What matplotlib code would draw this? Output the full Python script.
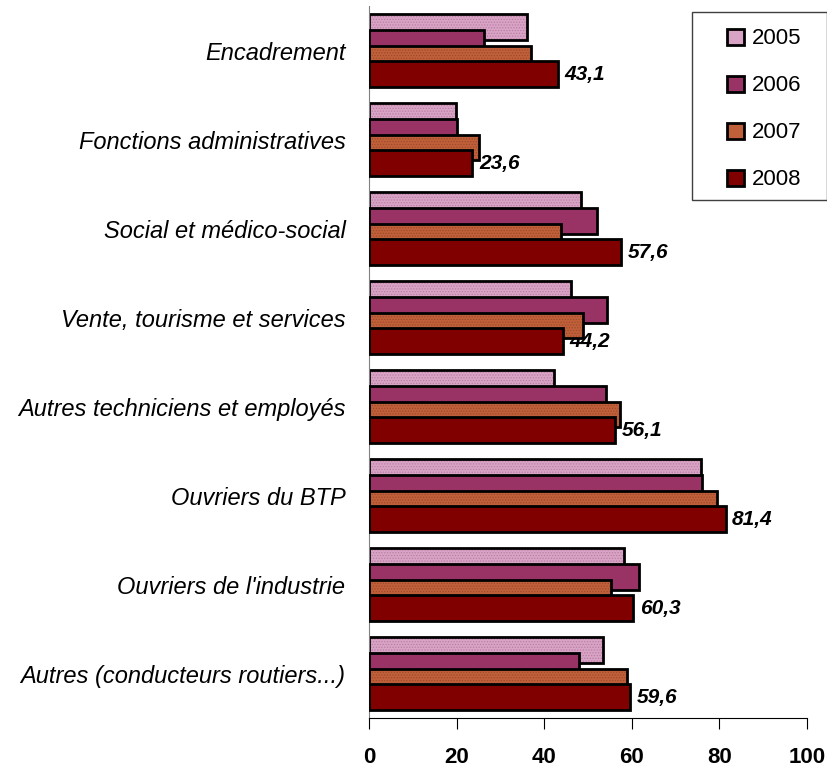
import matplotlib
matplotlib.use("Agg")
import matplotlib.pyplot as plt
from matplotlib.patches import Patch, Rectangle
import numpy as np

plt.rcParams['font.family'] = ['Liberation Sans Narrow', 'Liberation Sans', 'DejaVu Sans']
plt.rcParams['hatch.linewidth'] = 0.6

categories = [
    "Encadrement",
    "Fonctions administratives",
    "Social et médico-social",
    "Vente, tourisme et services",
    "Autres techniciens et employés",
    "Ouvriers du BTP",
    "Ouvriers de l'industrie",
    "Autres (conducteurs routiers...)",
]
annees = ["2005", "2006", "2007", "2008"]
v2005 = [36.1, 19.8, 48.4, 46.2, 42.2, 75.7, 58.1, 53.5]
v2006 = [26.3, 20.1, 52.1, 54.3, 54.0, 76.1, 61.7, 47.9]
v2007 = [37.0, 25.1, 43.8, 48.9, 57.2, 79.5, 55.3, 58.9]
v2008 = [43.1, 23.6, 57.6, 44.2, 56.1, 81.4, 60.3, 59.6]

series = [v2005, v2006, v2007, v2008]
couleurs = ["#D9A3C6", "#993366", "#C0603A", "#800000"]
hachures = ["......", None, "......", None]
couleurs_hachures = ["#B87FA3", None, "#9E4A2A", None]

fig = plt.figure(figsize=(8.28, 7.68), dpi=100)
ax = fig.add_axes([0.4457, 0.065, 0.529, 0.927])

y = np.arange(len(categories))
pas = 0.177
hauteur = 0.29

for j, valeurs in enumerate(series):
    pos = y + (j - 1.5) * pas
    if hachures[j]:
        ax.barh(pos, valeurs, height=hauteur, color=couleurs[j],
                edgecolor=couleurs_hachures[j], hatch=hachures[j],
                linewidth=0, zorder=2 + j)
        ax.barh(pos, valeurs, height=hauteur, fill=False,
                edgecolor="black", linewidth=2, zorder=2 + j)
    else:
        ax.barh(pos, valeurs, height=hauteur, color=couleurs[j],
                edgecolor="black", linewidth=2, zorder=2 + j)

# étiquettes pour 2008
for i, v in enumerate(v2008):
    ax.text(v + 1.5, y[i] + 1.5 * pas, f"{v:.1f}".replace(".", ","),
            va="center", ha="left", fontsize=15, fontweight="bold",
            fontstyle="italic")

ax.set_xlim(0, 100)
ax.set_ylim(len(categories) - 0.5, -0.5)
ax.set_xticks([0, 20, 40, 60, 80, 100])
ax.set_xticklabels(["0", "20", "40", "60", "80", "100"], fontsize=16,
                   fontweight="bold")
ax.set_yticks(y)
ax.set_yticklabels(categories, fontsize=17, fontstyle="italic")
ax.tick_params(axis="y", length=0, pad=17)
ax.tick_params(axis="x", length=8, direction="out", pad=13)
ax.spines["top"].set_visible(False)
ax.spines["right"].set_visible(False)
ax.spines["left"].set_color("#808080")

# cadre de la légende
fig.patches.append(Rectangle((0.8357, 0.7396), 0.1631, 0.2448,
                             transform=fig.transFigure, fill=False,
                             edgecolor="#404040", linewidth=1))
poignees = [Patch(facecolor=couleurs[j], edgecolor="black", linewidth=2,
                  label=annees[j]) for j in range(4)]
fig.legend(handles=poignees, loc="upper left",
           bbox_to_anchor=(0.878, 0.963), fontsize=16, frameon=False,
           handlelength=0.75, handleheight=0.75, handletextpad=0.35,
           labelspacing=1.17, borderpad=0, borderaxespad=0)

fig.savefig("out.png", dpi=100)
